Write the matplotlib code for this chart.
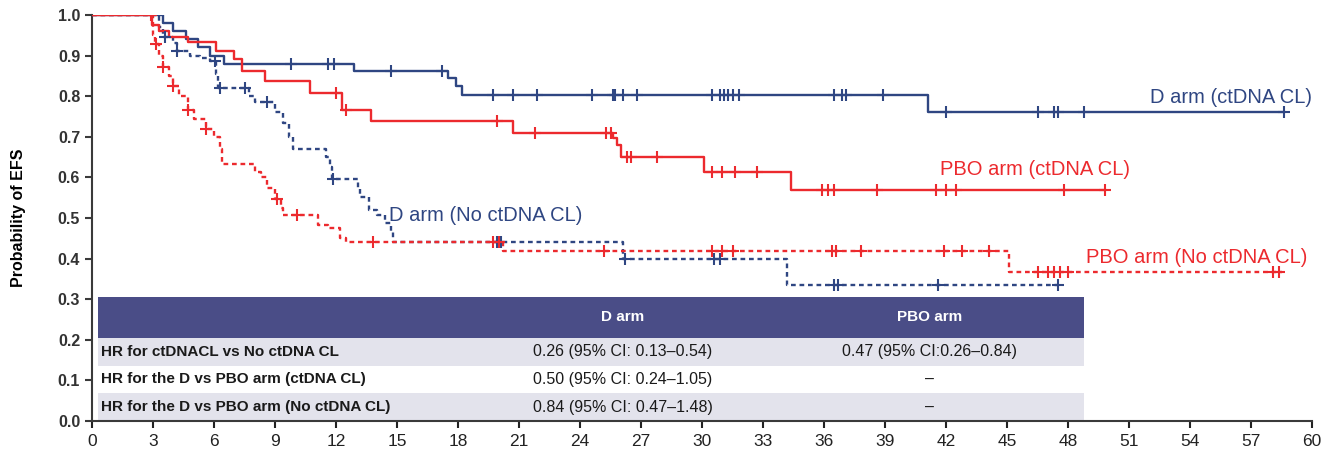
import matplotlib
matplotlib.use("Agg")
import matplotlib.pyplot as plt
from matplotlib.patches import Rectangle
import numpy as np

plt.rcParams['font.family'] = ['Liberation Sans', 'DejaVu Sans']

# ---- Kaplan-Meier data (months, survival after each event) ----
d_cl_t = [3.5, 4.0, 4.6, 5.2, 5.8, 6.5, 12.9, 17.5, 17.9, 18.2, 41.1]
d_cl_s = [0.98, 0.96, 0.94, 0.92, 0.90, 0.879, 0.861, 0.845, 0.825, 0.804, 0.762]
d_cl_end = 58.6
d_cl_cens = [9.8, 11.6, 11.9, 14.7, 17.2, 19.7, 20.7, 21.9, 24.6, 25.6, 25.7, 26.1,
             26.8, 30.5, 30.9, 31.1, 31.3, 31.5, 31.8, 36.5, 36.9, 37.1, 38.9,
             42.0, 46.5, 47.3, 47.5, 48.8, 58.6]

p_cl_t = [2.95, 3.3, 3.8, 4.7, 6.1, 7.0, 7.4, 8.5, 10.7, 12.3, 13.7, 20.7,
          25.6, 25.8, 26.0, 30.1, 34.4]
p_cl_s = [0.975, 0.96, 0.945, 0.933, 0.911, 0.891, 0.861, 0.837, 0.809, 0.767,
          0.738, 0.710, 0.698, 0.681, 0.651, 0.614, 0.569]
p_cl_end = 49.8
p_cl_cens = [2.9, 12.0, 12.5, 19.9, 21.8, 25.3, 25.5, 26.3, 26.5, 27.8, 30.5,
             31.0, 31.6, 32.7, 35.9, 36.2, 36.5, 38.6, 41.5, 42.0, 42.5, 47.8, 49.8]

d_no_t = [3.3, 3.5, 4.0, 4.2, 4.8, 5.3, 5.8, 6.1, 6.2, 7.7, 8.0, 9.0, 9.4, 9.7,
          9.9, 11.5, 11.7, 11.8, 13.1, 13.2, 13.6, 14.0, 14.4, 14.7, 14.8, 26.1, 34.2]
d_no_s = [0.97, 0.945, 0.93, 0.911, 0.90, 0.895, 0.886, 0.854, 0.819, 0.80, 0.785,
          0.76, 0.735, 0.70, 0.671, 0.651, 0.626, 0.597, 0.574, 0.552, 0.52, 0.507,
          0.488, 0.465, 0.441, 0.398, 0.334]
d_no_end = 47.5
d_no_cens = [3.6, 4.2, 6.05, 6.3, 7.5, 8.6, 11.85, 19.9, 20.1, 26.2, 30.6, 30.9,
             36.5, 36.7, 41.6, 47.5]

p_no_t = [3.0, 3.1, 3.3, 3.5, 3.8, 4.0, 4.3, 4.7, 5.0, 5.6, 6.0, 6.3, 6.4, 8.0,
          8.3, 8.6, 9.0, 9.3, 9.4, 11.1, 11.6, 12.2, 12.5, 20.2, 45.1]
p_no_s = [0.95, 0.928, 0.90, 0.871, 0.85, 0.824, 0.80, 0.767, 0.745, 0.72, 0.70,
          0.67, 0.634, 0.614, 0.60, 0.574, 0.547, 0.525, 0.507, 0.483, 0.475, 0.45,
          0.441, 0.418, 0.366]
p_no_end = 58.5
p_no_cens = [3.15, 3.5, 4.0, 4.7, 5.6, 9.1, 10.1, 13.8, 19.7, 20.0, 25.2, 30.5,
             31.0, 31.5, 36.4, 36.6, 37.8, 41.9, 42.8, 44.1, 46.5, 47.0, 47.3,
             47.6, 48.0, 58.1, 58.4]

curve_labels = ["D arm (ctDNA CL)", "PBO arm (ctDNA CL)",
                "D arm (No ctDNA CL)", "PBO arm (No ctDNA CL)"]

x_ticks = list(range(0, 61, 3))
y_ticks = [0.0, 0.1, 0.2, 0.3, 0.4, 0.5, 0.6, 0.7, 0.8, 0.9, 1.0]

table_cols = ["D arm", "PBO arm"]
table_rows = ["HR for ctDNACL vs No ctDNA CL",
              "HR for the D vs PBO arm (ctDNA CL)",
              "HR for the D vs PBO arm (No ctDNA CL)"]
table_d = ["0.26 (95% CI: 0.13\u20130.54)", "0.50 (95% CI: 0.24\u20131.05)",
           "0.84 (95% CI: 0.47\u20131.48)"]
table_p = ["0.47 (95% CI:0.26\u20130.84)", "\u2013", "\u2013"]

NAVY = "#2f4682"
RED = "#ec2a2e"

fig = plt.figure(figsize=(13.25, 4.57), dpi=100)
ax = fig.add_axes([92 / 1325, 36 / 457, 1220 / 1325, 406 / 457])


def km(ax, t, s, end, cens, color, ls):
    xs = np.concatenate([[0.0], t, [end]])
    ys = np.concatenate([[1.0], s, [s[-1]]])
    ax.step(xs, ys, where="post", color=color, lw=1.7, ls=ls, zorder=3)
    cy = [ys[np.searchsorted(xs, c, side="right") - 1] for c in cens]
    ax.plot(cens, cy, ls="none", marker="+", ms=9, mew=1.5, color=color, zorder=4)


dot = (0, (2.0, 1.6))
km(ax, d_no_t, d_no_s, d_no_end, d_no_cens, NAVY, dot)
km(ax, p_no_t, p_no_s, p_no_end, p_no_cens, RED, dot)
km(ax, d_cl_t, d_cl_s, d_cl_end, d_cl_cens, NAVY, "-")
km(ax, p_cl_t, p_cl_s, p_cl_end, p_cl_cens, RED, "-")

lab_fs = 14.5
ax.text(60, 0.797, curve_labels[0], color=NAVY, fontsize=lab_fs, ha="right", va="center")
ax.text(41.7, 0.619, curve_labels[1], color=RED, fontsize=lab_fs, ha="left", va="center")
ax.text(14.6, 0.507, curve_labels[2], color=NAVY, fontsize=lab_fs, ha="left", va="center")
ax.text(48.9, 0.403, curve_labels[3], color=RED, fontsize=lab_fs, ha="left", va="center")

# ---- hazard-ratio table inside the plot area ----
tx0, tx1 = 0.3, 48.8
hdr_lo, hdr_hi = 0.205, 0.305
row_h = (hdr_lo - 0.0) / 3
ax.add_patch(Rectangle((tx0, hdr_lo), tx1 - tx0, hdr_hi - hdr_lo,
                       facecolor="#4a4d87", edgecolor="none", zorder=2))
for i in range(3):
    y_lo = hdr_lo - (i + 1) * row_h
    fc = "#e3e3ec" if i % 2 == 0 else "white"
    ax.add_patch(Rectangle((tx0, y_lo), tx1 - tx0, row_h,
                           facecolor=fc, edgecolor="none", zorder=2))
col_x = [26.1, 41.2]
for cx, name in zip(col_x, table_cols):
    ax.text(cx, (hdr_lo + hdr_hi) / 2, name, color="white", fontsize=11,
            fontweight="bold", ha="center", va="center", zorder=5)
for i in range(3):
    yc = hdr_lo - (i + 0.5) * row_h
    ax.text(0.45, yc, table_rows[i], fontsize=11, fontweight="bold",
            ha="left", va="center", color="#1a1a1a", zorder=5)
    ax.text(col_x[0], yc, table_d[i], fontsize=11.5, ha="center", va="center",
            color="#1a1a1a", zorder=5)
    ax.text(col_x[1], yc, table_p[i], fontsize=11.5, ha="center", va="center",
            color="#1a1a1a", zorder=5)

# ---- axes styling ----
ax.set_xlim(0, 60)
ax.set_ylim(0, 1.0)
ax.set_xticks(x_ticks)
ax.set_xticklabels([str(v) for v in x_ticks], fontsize=12.5)
ax.set_yticks(y_ticks)
ax.set_yticklabels([f"{v:.1f}" for v in y_ticks], fontsize=11.5,
                   fontweight="bold", color="#333333")
for side in ("top", "right"):
    ax.spines[side].set_visible(False)
for side in ("left", "bottom"):
    ax.spines[side].set_color("#3a3a3a")
    ax.spines[side].set_linewidth(1.5)
ax.tick_params(axis="both", direction="out", length=5, width=1.5, color="#3a3a3a")
ax.tick_params(axis="x", pad=4, colors="#222222")
ax.set_ylabel("Probability of EFS", fontsize=11.5, fontweight="bold")
ax.yaxis.set_label_coords(-0.054, 0.5)

fig.savefig("out.png", dpi=100, facecolor="white")
